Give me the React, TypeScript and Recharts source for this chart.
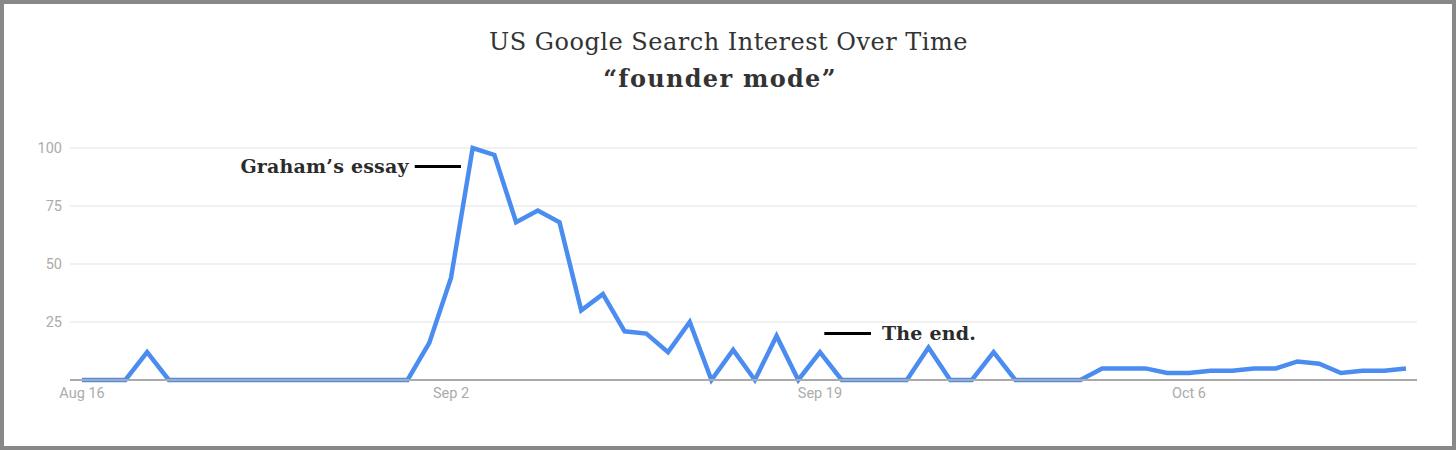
import React from "react";
import { LineChart, Line, XAxis, YAxis, CartesianGrid, ReferenceLine, Label } from "recharts";

// Daily US search interest for "founder mode", Aug 16 – Oct 16
const interest = [
  0, 0, 0, 12, 0, 0, 0, 0, 0, 0, 0, 0, 0, 0, 0, 0,
  16, 44, 100, 97, 68, 73, 68, 30, 37, 21, 20, 12, 25, 0, 13, 0,
  19, 0, 12, 0, 0, 0, 0, 14, 0, 0, 12, 0, 0, 0, 0, 5,
  5, 5, 3, 3, 4, 4, 5, 5, 8, 7, 3, 4, 4, 5,
];
const tickDays = [0, 17, 34, 51];
const tickLabels = ["Aug 16", "Sep 2", "Sep 19", "Oct 6"];
const yTicks = [25, 50, 75, 100];
const grahamSegment = [
  { x: 15.33, y: 92 },
  { x: 17.46, y: 92 },
];
const endSegment = [
  { x: 34.2, y: 20 },
  { x: 36.35, y: 20 },
];

const data = interest.map((v, i) => ({ day: i, value: v }));

const tickStyle = { fill: "#ababab", fontSize: 14.5, fontFamily: "Roboto, sans-serif" };
const annoStyle = {
  fill: "#2b2b2b",
  fontSize: 19,
  fontWeight: 700,
  letterSpacing: 0.2,
  fontFamily: "'DejaVu Serif', serif",
};

export default function App() {
  return (
    <div
      style={{
        position: "absolute",
        left: 0,
        top: 0,
        width: 1456,
        height: 450,
        boxSizing: "border-box",
        border: "4px solid #888",
        background: "#fff",
      }}
    >
      <svg width={1448} height={110} style={{ position: "absolute", left: 0, top: 0 }}>
        <text
          x={724.5}
          y={45.5}
          textAnchor="middle"
          fontFamily="'DejaVu Serif', serif"
          fontSize={24}
          letterSpacing={0.5}
          fill="#333"
        >
          US Google Search Interest Over Time
        </text>
        <text
          x={716}
          y={83}
          textAnchor="middle"
          fontFamily="'DejaVu Serif', serif"
          fontSize={24}
          letterSpacing={1.3}
          fontWeight={700}
          fill="#333"
        >
          “founder mode”
        </text>
      </svg>
      <div style={{ position: "absolute", left: 0, top: 0 }}>
        <LineChart width={1448} height={442} data={data} margin={{ top: 144, right: 35, bottom: 36, left: 0 }}>
          <CartesianGrid horizontal vertical={false} stroke="#e3e3e3" strokeWidth={1} />
          <XAxis
            dataKey="day"
            type="number"
            domain={[0, 61]}
            ticks={tickDays}
            tickFormatter={(d) => tickLabels[tickDays.indexOf(d)] ?? ""}
            padding={{ left: 12, right: 11 }}
            tickLine={false}
            axisLine={{ stroke: "#aaa", strokeWidth: 2 }}
            tick={tickStyle}
            height={30}
            interval={0}
          />
          <YAxis
            type="number"
            domain={[0, 100]}
            ticks={yTicks}
            tickLine={false}
            axisLine={false}
            tick={tickStyle}
            width={66}
            interval={0}
          />
          <Line
            type="linear"
            dataKey="value"
            stroke="#4a8cf0"
            strokeWidth={4.5}
            dot={false}
            activeDot={false}
            isAnimationActive={false}
          />
          <ReferenceLine segment={grahamSegment} stroke="#000" strokeWidth={3}>
            <Label value="Graham’s essay" position="left" offset={6} style={annoStyle} />
          </ReferenceLine>
          <ReferenceLine segment={endSegment} stroke="#000" strokeWidth={3}>
            <Label value="The end." position="right" offset={11} style={annoStyle} />
          </ReferenceLine>
        </LineChart>
      </div>
    </div>
  );
}
